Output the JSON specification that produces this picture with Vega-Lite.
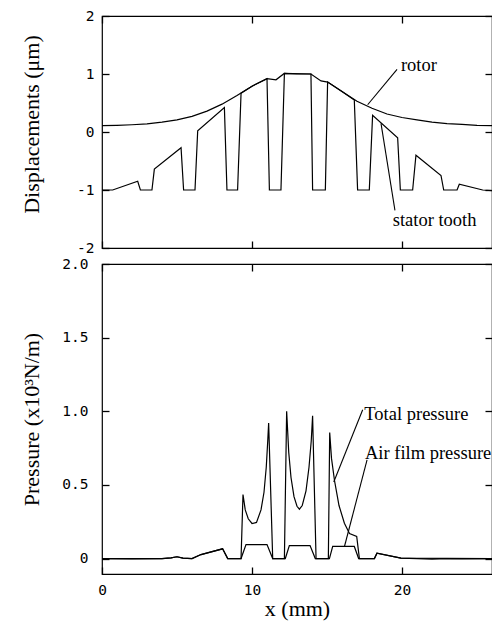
{
  "$schema": "https://vega.github.io/schema/vega-lite/v6.json",
  "padding": {"left": 19, "top": 7, "right": 0, "bottom": 0},
  "background": "white",
  "bounds": "flush",
  "spacing": 16,
  "config": {
    "view": {"stroke": "black", "strokeWidth": 1.2},
    "axis": {"zindex": 1, "offset": -7, "ticks": true, "domain": false, "grid": false, "tickColor": "#000000", "tickOpacity": 1, "tickSize": 7, "tickWidth": 1.3, "labelFont": "DejaVu Sans Mono", "labelFontSize": 14.5, "labelColor": "black", "labelPadding": 8, "labelFlush": false, "labelOverlap": false, "titleFont": "Liberation Serif", "titleFontSize": 22, "titleFontWeight": "normal", "titleColor": "black"},
    "line": {"color": "black", "strokeWidth": 1.2},
    "rule": {"color": "black", "strokeWidth": 1.1},
    "text": {"font": "Liberation Serif", "fontSize": 18.5, "color": "black", "align": "left", "baseline": "middle"}
  },
  "datasets": {
    "disp": [
      {"series": "rotor", "x": 0, "v": 0.11}, {"series": "rotor", "x": 1, "v": 0.115}, {"series": "rotor", "x": 2, "v": 0.125}, {"series": "rotor", "x": 3, "v": 0.14}, {"series": "rotor", "x": 4, "v": 0.17}, {"series": "rotor", "x": 5, "v": 0.21}, {"series": "rotor", "x": 6, "v": 0.27}, {"series": "rotor", "x": 7, "v": 0.36}, {"series": "rotor", "x": 8, "v": 0.48}, {"series": "rotor", "x": 9, "v": 0.63}, {"series": "rotor", "x": 10, "v": 0.79}, {"series": "rotor", "x": 11, "v": 0.92}, {"series": "rotor", "x": 11.6, "v": 0.9}, {"series": "rotor", "x": 12.15, "v": 1.01}, {"series": "rotor", "x": 13.93, "v": 1.0}, {"series": "rotor", "x": 14.6, "v": 0.88}, {"series": "rotor", "x": 15.05, "v": 0.86}, {"series": "rotor", "x": 16, "v": 0.7}, {"series": "rotor", "x": 17, "v": 0.53}, {"series": "rotor", "x": 18, "v": 0.41}, {"series": "rotor", "x": 19, "v": 0.31}, {"series": "rotor", "x": 20, "v": 0.25}, {"series": "rotor", "x": 21, "v": 0.21}, {"series": "rotor", "x": 22, "v": 0.17}, {"series": "rotor", "x": 23, "v": 0.145}, {"series": "rotor", "x": 24, "v": 0.13}, {"series": "rotor", "x": 25, "v": 0.115}, {"series": "rotor", "x": 26, "v": 0.11},
      {"series": "stator", "x": 0, "v": -1}, {"series": "stator", "x": 0.71, "v": -1}, {"series": "stator", "x": 2.38, "v": -0.85}, {"series": "stator", "x": 2.56, "v": -1}, {"series": "stator", "x": 3.33, "v": -1}, {"series": "stator", "x": 3.49, "v": -0.64}, {"series": "stator", "x": 5.27, "v": -0.27}, {"series": "stator", "x": 5.44, "v": -1}, {"series": "stator", "x": 6.2, "v": -1}, {"series": "stator", "x": 6.38, "v": 0.02}, {"series": "stator", "x": 8.16, "v": 0.42}, {"series": "stator", "x": 8.33, "v": -1}, {"series": "stator", "x": 9.04, "v": -1}, {"series": "stator", "x": 9.27, "v": 0.67}, {"series": "stator", "x": 10, "v": 0.79}, {"series": "stator", "x": 11.0, "v": 0.92}, {"series": "stator", "x": 11.16, "v": -1}, {"series": "stator", "x": 11.93, "v": -1}, {"series": "stator", "x": 12.16, "v": 1.01}, {"series": "stator", "x": 13.0, "v": 1.0}, {"series": "stator", "x": 13.93, "v": 1.0}, {"series": "stator", "x": 14.04, "v": -1}, {"series": "stator", "x": 14.89, "v": -1}, {"series": "stator", "x": 15.04, "v": 0.86}, {"series": "stator", "x": 16.0, "v": 0.7}, {"series": "stator", "x": 16.82, "v": 0.55}, {"series": "stator", "x": 17.04, "v": -1}, {"series": "stator", "x": 17.82, "v": -1}, {"series": "stator", "x": 18.04, "v": 0.29}, {"series": "stator", "x": 19.71, "v": -0.1}, {"series": "stator", "x": 19.89, "v": -1}, {"series": "stator", "x": 20.71, "v": -1}, {"series": "stator", "x": 20.93, "v": -0.4}, {"series": "stator", "x": 22.6, "v": -0.75}, {"series": "stator", "x": 22.78, "v": -1}, {"series": "stator", "x": 23.67, "v": -1}, {"series": "stator", "x": 23.82, "v": -0.9}, {"series": "stator", "x": 25.38, "v": -1}, {"series": "stator", "x": 26, "v": -1.01}
    ],
    "dispLabels": [
      {"x": 19.93, "v": 1.15, "label": "rotor"},
      {"x": 19.38, "v": -1.52, "label": "stator tooth"}
    ],
    "dispLeaders": [
      {"x": 19.67, "v": 1.08, "x2": 17.71, "v2": 0.47},
      {"x": 19.53, "v": -1.35, "x2": 18.6, "v2": 0.15}
    ],
    "pres": [
      {"series": "total", "x": 0, "v": 0}, {"series": "total", "x": 2, "v": -0.003}, {"series": "total", "x": 4, "v": 0}, {"series": "total", "x": 4.6, "v": 0.005}, {"series": "total", "x": 5.0, "v": 0.012}, {"series": "total", "x": 5.4, "v": 0.003}, {"series": "total", "x": 6.0, "v": 0}, {"series": "total", "x": 6.6, "v": 0.027}, {"series": "total", "x": 8.04, "v": 0.066}, {"series": "total", "x": 8.38, "v": 0}, {"series": "total", "x": 9.27, "v": 0}, {"series": "total", "x": 9.4, "v": 0.435}, {"series": "total", "x": 9.55, "v": 0.33}, {"series": "total", "x": 9.75, "v": 0.27}, {"series": "total", "x": 10.0, "v": 0.238}, {"series": "total", "x": 10.3, "v": 0.245}, {"series": "total", "x": 10.6, "v": 0.33}, {"series": "total", "x": 10.8, "v": 0.45}, {"series": "total", "x": 10.95, "v": 0.62}, {"series": "total", "x": 11.05, "v": 0.8}, {"series": "total", "x": 11.11, "v": 0.92}, {"series": "total", "x": 11.38, "v": 0}, {"series": "total", "x": 12.16, "v": 0}, {"series": "total", "x": 12.31, "v": 1.0}, {"series": "total", "x": 12.45, "v": 0.72}, {"series": "total", "x": 12.6, "v": 0.55}, {"series": "total", "x": 12.8, "v": 0.42}, {"series": "total", "x": 13.0, "v": 0.355}, {"series": "total", "x": 13.16, "v": 0.335}, {"series": "total", "x": 13.35, "v": 0.36}, {"series": "total", "x": 13.6, "v": 0.46}, {"series": "total", "x": 13.8, "v": 0.62}, {"series": "total", "x": 13.95, "v": 0.8}, {"series": "total", "x": 14.04, "v": 0.97}, {"series": "total", "x": 14.27, "v": 0}, {"series": "total", "x": 15.09, "v": 0}, {"series": "total", "x": 15.18, "v": 0.855}, {"series": "total", "x": 15.3, "v": 0.68}, {"series": "total", "x": 15.5, "v": 0.53}, {"series": "total", "x": 15.8, "v": 0.36}, {"series": "total", "x": 16.16, "v": 0.24}, {"series": "total", "x": 16.5, "v": 0.17}, {"series": "total", "x": 16.98, "v": 0.15}, {"series": "total", "x": 17.16, "v": 0}, {"series": "total", "x": 18.16, "v": 0}, {"series": "total", "x": 18.33, "v": 0.036}, {"series": "total", "x": 19.93, "v": 0.003}, {"series": "total", "x": 21, "v": 0}, {"series": "total", "x": 22, "v": -0.004}, {"series": "total", "x": 23, "v": 0}, {"series": "total", "x": 24, "v": -0.003}, {"series": "total", "x": 26, "v": 0},
      {"series": "air", "x": 0, "v": 0}, {"series": "air", "x": 4, "v": 0}, {"series": "air", "x": 4.6, "v": 0.005}, {"series": "air", "x": 5.0, "v": 0.012}, {"series": "air", "x": 5.4, "v": 0.003}, {"series": "air", "x": 6.0, "v": 0}, {"series": "air", "x": 6.6, "v": 0.027}, {"series": "air", "x": 8.04, "v": 0.066}, {"series": "air", "x": 8.38, "v": 0}, {"series": "air", "x": 9.27, "v": 0}, {"series": "air", "x": 9.6, "v": 0.095}, {"series": "air", "x": 11.0, "v": 0.095}, {"series": "air", "x": 11.38, "v": 0}, {"series": "air", "x": 12.22, "v": 0}, {"series": "air", "x": 12.49, "v": 0.088}, {"series": "air", "x": 13.87, "v": 0.088}, {"series": "air", "x": 14.22, "v": 0}, {"series": "air", "x": 15.16, "v": 0}, {"series": "air", "x": 15.38, "v": 0.082}, {"series": "air", "x": 16.82, "v": 0.082}, {"series": "air", "x": 17.11, "v": 0}, {"series": "air", "x": 18.16, "v": 0}, {"series": "air", "x": 18.33, "v": 0.036}, {"series": "air", "x": 19.93, "v": 0.003}, {"series": "air", "x": 26, "v": 0}
    ],
    "presLabels": [
      {"x": 17.49, "v": 0.98, "label": "Total pressure"},
      {"x": 17.53, "v": 0.72, "label": "Air film pressure"}
    ],
    "presLeaders": [
      {"x": 17.38, "v": 1.01, "x2": 15.45, "v2": 0.52},
      {"x": 17.67, "v": 0.67, "x2": 16.16, "v2": 0.08}
    ]
  },
  "vconcat": [
    {
      "width": 390,
      "height": 232,
      "layer": [
        {
          "data": {"name": "disp"},
          "mark": {"type": "line"},
          "encoding": {
            "x": {"field": "x", "type": "quantitative", "scale": {"domain": [0, 26], "nice": false, "zero": false}, "axis": {"orient": "bottom", "values": [0, 10, 20], "labels": false, "title": null}},
            "y": {"field": "v", "type": "quantitative", "scale": {"domain": [-2, 2], "nice": false, "zero": false}, "axis": {"orient": "left", "values": [-2, -1, 0, 1, 2], "labelExpr": "'' + datum.value", "title": "Displacements (μm)", "titleX": -66, "titleY": 108}},
            "detail": {"field": "series"}
          }
        },
        {
          "data": {"name": "dispLabels"},
          "mark": {"type": "text"},
          "encoding": {
            "x": {"field": "x", "type": "quantitative", "scale": {"domain": [0, 26], "nice": false, "zero": false}, "axis": {"orient": "top", "values": [0, 10, 20], "labels": false, "title": null}},
            "y": {"field": "v", "type": "quantitative", "scale": {"domain": [-2, 2], "nice": false, "zero": false}, "axis": {"orient": "right", "values": [-2, -1, 0, 1, 2], "labels": false, "title": null}},
            "text": {"field": "label"}
          }
        },
        {
          "data": {"name": "dispLeaders"},
          "mark": {"type": "rule"},
          "encoding": {
            "x": {"field": "x", "type": "quantitative", "scale": {"domain": [0, 26], "nice": false, "zero": false}, "axis": null},
            "y": {"field": "v", "type": "quantitative", "scale": {"domain": [-2, 2], "nice": false, "zero": false}, "axis": null},
            "x2": {"field": "x2"},
            "y2": {"field": "v2"}
          }
        }
      ],
      "resolve": {"axis": {"x": "independent", "y": "independent"}}
    },
    {
      "width": 390,
      "height": 310,
      "layer": [
        {
          "data": {"name": "pres"},
          "mark": {"type": "line"},
          "encoding": {
            "x": {"field": "x", "type": "quantitative", "scale": {"domain": [0, 26], "nice": false, "zero": false}, "axis": {"orient": "bottom", "values": [0, 10, 20], "labelPadding": 9, "title": "x (mm)", "titlePadding": 2}},
            "y": {"field": "v", "type": "quantitative", "scale": {"domain": [-0.105, 2.0], "nice": false, "zero": false}, "axis": {"orient": "left", "values": [0, 0.5, 1, 1.5, 2], "labelPadding": 14, "labelExpr": "datum.value == 0 ? '0' : format(datum.value, '.1f')", "title": "Pressure (x10³N/m)", "titleX": -66, "titleY": 155}},
            "detail": {"field": "series"}
          }
        },
        {
          "data": {"name": "presLabels"},
          "mark": {"type": "text"},
          "encoding": {
            "x": {"field": "x", "type": "quantitative", "scale": {"domain": [0, 26], "nice": false, "zero": false}, "axis": {"orient": "top", "values": [0, 10, 20], "labels": false, "title": null}},
            "y": {"field": "v", "type": "quantitative", "scale": {"domain": [-0.105, 2.0], "nice": false, "zero": false}, "axis": {"orient": "right", "values": [0, 0.5, 1, 1.5, 2], "labels": false, "title": null}},
            "text": {"field": "label"}
          }
        },
        {
          "data": {"name": "presLeaders"},
          "mark": {"type": "rule"},
          "encoding": {
            "x": {"field": "x", "type": "quantitative", "scale": {"domain": [0, 26], "nice": false, "zero": false}, "axis": null},
            "y": {"field": "v", "type": "quantitative", "scale": {"domain": [-0.105, 2.0], "nice": false, "zero": false}, "axis": null},
            "x2": {"field": "x2"},
            "y2": {"field": "v2"}
          }
        }
      ],
      "resolve": {"axis": {"x": "independent", "y": "independent"}}
    }
  ]
}
